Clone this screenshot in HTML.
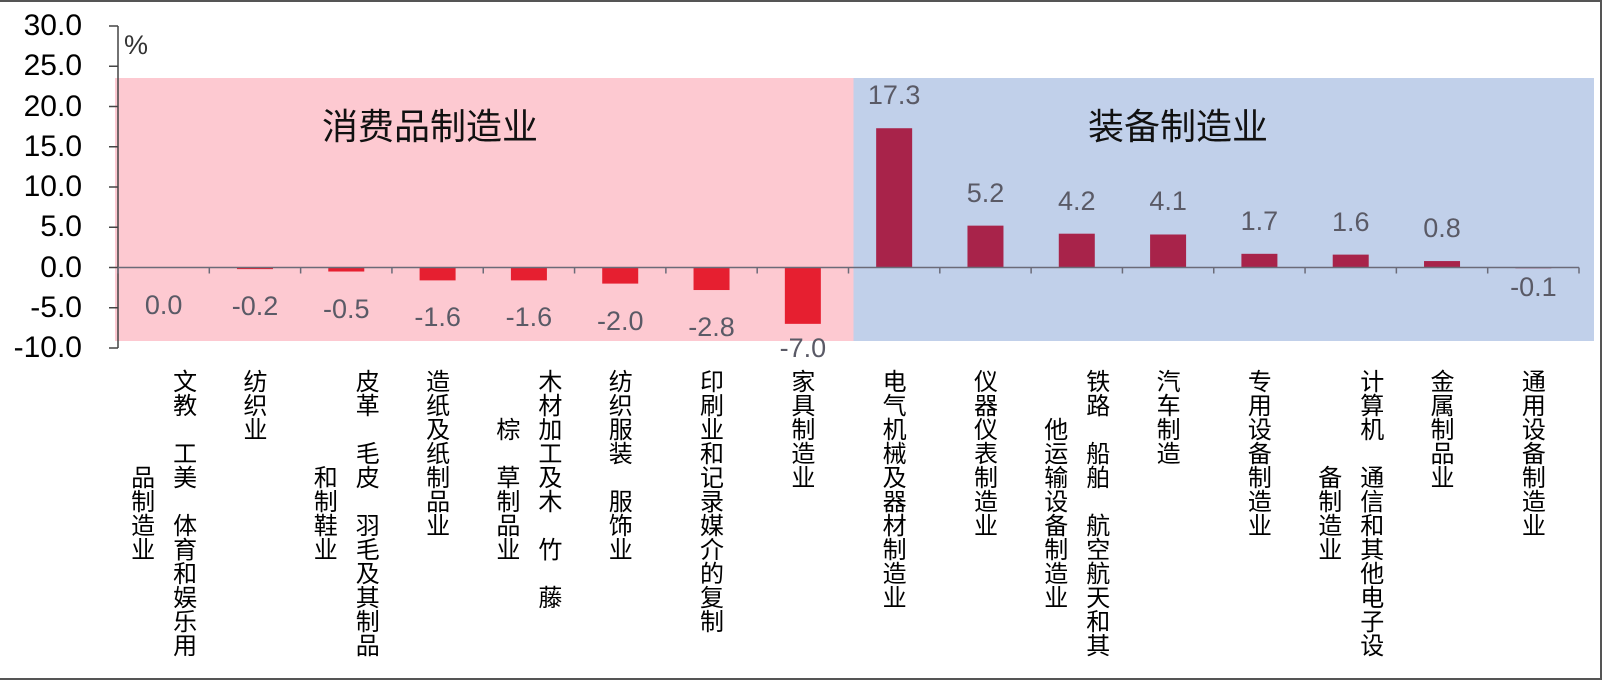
<!DOCTYPE html>
<html><head><meta charset="utf-8">
<style>
html,body{margin:0;padding:0;background:#fff;}
#wrap{position:relative;width:1604px;height:680px;overflow:hidden;font-family:"Liberation Sans","Noto Sans CJK SC",sans-serif;}
.frame{position:absolute;left:0;top:0;width:1600px;height:676px;border:2px solid #555;border-left:none;}
.ytick{position:absolute;width:102px;left:-20px;text-align:right;font-size:30px;color:#000;line-height:30px;}
.val{position:absolute;width:90px;text-align:center;font-size:27px;color:#5a5a66;line-height:28px;}
.col{position:absolute;writing-mode:vertical-rl;font-size:24px;line-height:24px;color:#000;white-space:nowrap;font-family:"Noto Sans CJK SC","WenQuanYi Zen Hei",sans-serif;}
.title{position:absolute;font-size:36px;line-height:44px;color:#111;font-family:"Noto Sans CJK SC",sans-serif;}
</style></head>
<body>
<div id="wrap">
<div class="frame"></div>
<svg id="svg" width="1604" height="680" style="position:absolute;left:0;top:0"></svg>
<div class="title" style="left:322px;top:102px">消费品制造业</div>
<div class="title" style="left:1088px;top:102px">装备制造业</div>
<div style="position:absolute;left:124px;top:30px;font-size:27px;color:#333">%</div>
</div>
<script>
const categories=[
 ["文教　工美　体育和娱乐用","品制造业"],
 ["纺织业"],
 ["皮革　毛皮　羽毛及其制品","和制鞋业"],
 ["造纸及纸制品业"],
 ["木材加工及木　竹　藤","棕　草制品业"],
 ["纺织服装　服饰业"],
 ["印刷业和记录媒介的复制"],
 ["家具制造业"],
 ["电气机械及器材制造业"],
 ["仪器仪表制造业"],
 ["铁路　船舶　航空航天和其","他运输设备制造业"],
 ["汽车制造"],
 ["专用设备制造业"],
 ["计算机　通信和其他电子设","备制造业"],
 ["金属制品业"],
 ["通用设备制造业"]
];
const values=[0.0,-0.2,-0.5,-1.6,-1.6,-2.0,-2.8,-7.0,17.3,5.2,4.2,4.1,1.7,1.6,0.8,-0.1];
const groups=["consumer","consumer","consumer","consumer","consumer","consumer","consumer","consumer","equipment","equipment","equipment","equipment","equipment","equipment","equipment","equipment"];
const yTicks=[30,25,20,15,10,5,0,-5,-10];

const X0=118,X1=1579,yTop=26,yBot=348,yMax=30,yMin=-10;
const bw=(X1-X0)/categories.length;
function y(v){return yBot-(v-yMin)/(yMax-yMin)*(yBot-yTop);}
function xc(i){return X0+bw*(i+0.5);}
const NS="http://www.w3.org/2000/svg";
const svg=document.getElementById('svg');
function mk(t,a){const e=document.createElementNS(NS,t);for(const k in a)e.setAttribute(k,a[k]);svg.appendChild(e);return e;}

const nCons=groups.filter(g=>g==="consumer").length;
const bnd=X0+bw*nCons+5;
const pink=mk('rect',{x:115,y:78,width:bnd-115,height:263,fill:'#fdc9d1'});


const blue=mk('rect',{x:bnd,y:78,width:1594-bnd,height:263,fill:'#c1d0ea'});



const ax=mk('line',{x1:X0,y1:y(yMax),x2:X0,y2:y(yMin),stroke:'#444','stroke-width':1.5});


const wrap=document.getElementById('wrap');
yTicks.forEach(t=>{
  const l=mk('line',{x1:X0-9,y1:y(t),x2:X0,y2:y(t),stroke:'#444','stroke-width':1.5});
  
  
  const d=document.createElement('div');
  d.className='ytick';
  d.style.top=(y(t)-15)+'px';
  d.textContent=t.toFixed(1);
  
  
  wrap.appendChild(d);
});

values.forEach((v,i)=>{
  const top=Math.min(y(v),y(0)), h=Math.abs(y(v)-y(0));
  const r=mk('rect',{x:xc(i)-18,y:top,width:36,height:Math.max(h,0.01),fill:groups[i]==='consumer'?'#e61f30':'#a8234a'});
  
  
  const d=document.createElement('div');
  d.className='val';
  let cy;
  if(v>0) cy=y(v)-33;
  else if(groups[i]==='consumer') cy=Math.min(y(v)+37,348);
  else cy=y(v)+19;
  d.style.left=(xc(i)-45)+'px';
  d.style.top=(cy-14)+'px';
  d.textContent=v.toFixed(1);
  
  
  wrap.appendChild(d);
});

const zl=mk('line',{x1:X0,y1:y(0),x2:X1,y2:y(0),stroke:'#6b6b78','stroke-width':1.5});


for(let k=0;k<=categories.length;k++){
  const t=mk('line',{x1:X0+bw*k,y1:y(0),x2:X0+bw*k,y2:y(0)+6,stroke:'#6b6b78','stroke-width':1.5});
  
  
}

const CH=24, LT=369;
categories.forEach((cols,i)=>{
  const n=cols.length;
  cols.forEach((txt,j)=>{
    const d=document.createElement('div');
    d.className='col';
    const cx = n===1 ? xc(i) : xc(i)+(j===0?21:-21);
    const off = j===0?0:(cols[0].length-txt.length)*CH/2;
    d.style.left=(cx-12)+'px';
    d.style.top=(LT+off)+'px';
    d.textContent=txt;
    
    
    wrap.appendChild(d);
  });
});
</script>
</body></html>
